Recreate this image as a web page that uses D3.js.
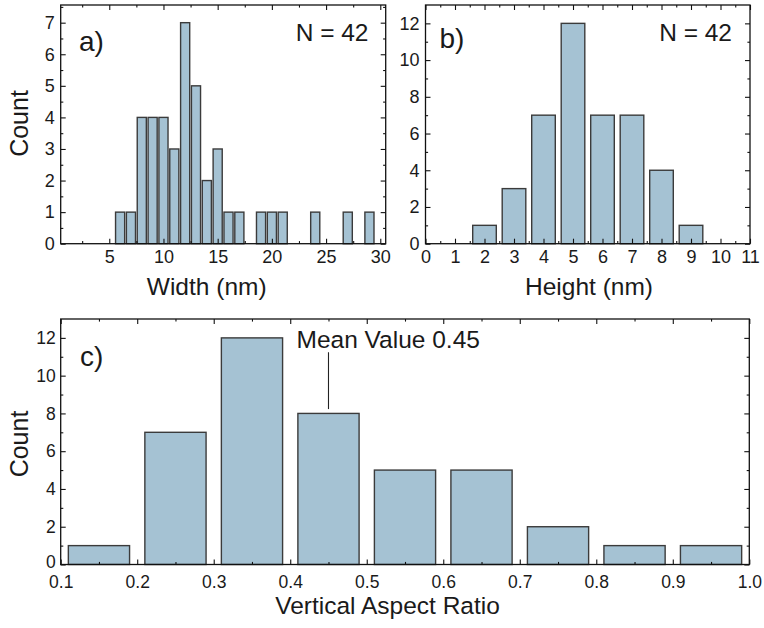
<!DOCTYPE html>
<html>
<head>
<meta charset="utf-8">
<script src="https://cdn.jsdelivr.net/npm/d3@7"></script>
<style>
  html, body { margin: 0; padding: 0; background: #fff; }
  svg { display: block; font-family: "Liberation Sans", Arial, Helvetica, sans-serif; }
  .tick text { fill: #1a1a1a; }
</style>
</head>
<body>
<svg id="chart" width="764" height="628"></svg>
<script>
// Width histogram (nm), 1 nm bins
const widthBins   = [6, 7, 8, 9, 10, 11, 12, 13, 14, 15, 16, 17, 19, 20, 21, 24, 27, 29];
const widthCounts = [1, 1, 4, 4, 4, 3, 7, 5, 2, 3, 1, 1, 1, 1, 1, 1, 1, 1];

// Height histogram (nm), 1 nm bins
const heightBins   = [2, 3, 4, 5, 6, 7, 8, 9];
const heightCounts = [1, 3, 7, 12, 7, 7, 4, 1];

// Vertical aspect ratio histogram, 0.1 bins
const ratioBins   = [0.15, 0.25, 0.35, 0.45, 0.55, 0.65, 0.75, 0.85, 0.95];
const ratioCounts = [1, 7, 12, 8, 5, 5, 2, 1, 1];

const sampleSize = 42;
const meanRatio = 0.45;

// Tick values
const widthTicks = [5, 10, 15, 20, 25, 30];
const widthMinor = [2.5, 7.5, 12.5, 17.5, 22.5, 27.5];
const widthCountTicks = [0, 1, 2, 3, 4, 5, 6, 7];
const widthCountMinor = [0.5, 1.5, 2.5, 3.5, 4.5, 5.5, 6.5, 7.5];
const heightTicks = [0, 1, 2, 3, 4, 5, 6, 7, 8, 9, 10, 11];
const heightMinor = [0.5, 1.5, 2.5, 3.5, 4.5, 5.5, 6.5, 7.5, 8.5, 9.5, 10.5];
const evenCountTicks = [0, 2, 4, 6, 8, 10, 12];
const oddCountMinor = [1, 3, 5, 7, 9, 11];
const ratioTicks = [0.1, 0.2, 0.3, 0.4, 0.5, 0.6, 0.7, 0.8, 0.9, 1.0];
const ratioMinor = [0.15, 0.25, 0.35, 0.45, 0.55, 0.65, 0.75, 0.85, 0.95];

const svg = d3.select("#chart");
const BAR_FILL = "#a5c2d3";
const BAR_STROKE = "#3b3b3b";
const TEXT = "#1a1a1a";

function drawPanel(cfg) {
  const g = svg.append("g");
  const x = d3.scaleLinear().domain(cfg.xDomain).range([cfg.left, cfg.right]);
  const y = d3.scaleLinear().domain(cfg.yDomain).range([cfg.bottom, cfg.top]);

  // bars
  g.append("g").selectAll("rect")
    .data(d3.zip(cfg.bins, cfg.counts))
    .join("rect")
    .attr("x", d => x(d[0] - cfg.barWidth / 2))
    .attr("width", d => x(d[0] + cfg.barWidth / 2) - x(d[0] - cfg.barWidth / 2))
    .attr("y", d => y(d[1]))
    .attr("height", d => y(0) - y(d[1]))
    .attr("fill", BAR_FILL)
    .attr("stroke", BAR_STROKE)
    .attr("stroke-width", 1.4);

  const major = 5, minor = 2.6;
  const addAxis = (axis, transform, labels) => {
    const a = g.append("g").attr("transform", transform).call(axis);
    a.select(".domain").remove();
    a.selectAll(".tick line").attr("stroke", "#111").attr("stroke-width", 1.1);
    if (!labels) a.selectAll(".tick text").remove();
    else a.selectAll(".tick text").attr("font-size", cfg.tickFont).attr("fill", TEXT);
    return a;
  };

  // bottom
  addAxis(d3.axisBottom(x).tickValues(cfg.xTicks).tickSize(-major).tickPadding(cfg.xPad)
    .tickFormat(cfg.xFormat), `translate(0,${cfg.bottom})`, true);
  addAxis(d3.axisBottom(x).tickValues(cfg.xMinor).tickSize(-minor).tickFormat(""),
    `translate(0,${cfg.bottom})`, false);
  // top mirror
  addAxis(d3.axisTop(x).tickValues(cfg.xTicks).tickSize(-major), `translate(0,${cfg.top})`, false);
  addAxis(d3.axisTop(x).tickValues(cfg.xMinor).tickSize(-minor), `translate(0,${cfg.top})`, false);
  // left
  const left = addAxis(d3.axisLeft(y).tickValues(cfg.yTicks).tickSize(-major).tickPadding(cfg.yPad)
    .tickFormat(d3.format("d")), `translate(${cfg.left},0)`, true);
  // lift the zero label a little so it clears the first x label
  if (cfg.zeroLift) {
    left.selectAll(".tick text").filter(d => d === 0)
      .attr("y", -cfg.zeroLift);
  }
  addAxis(d3.axisLeft(y).tickValues(cfg.yMinor).tickSize(-minor), `translate(${cfg.left},0)`, false);
  // right mirror
  addAxis(d3.axisRight(y).tickValues(cfg.yTicks).tickSize(-major), `translate(${cfg.right},0)`, false);
  addAxis(d3.axisRight(y).tickValues(cfg.yMinor).tickSize(-minor), `translate(${cfg.right},0)`, false);

  // frame
  g.append("rect")
    .attr("x", cfg.left).attr("y", cfg.top)
    .attr("width", cfg.right - cfg.left).attr("height", cfg.bottom - cfg.top)
    .attr("fill", "none").attr("stroke", "#111").attr("stroke-width", 1.3);

  // axis titles
  g.append("text")
    .attr("x", cfg.xTitleX).attr("y", cfg.xTitleY)
    .attr("text-anchor", "middle").attr("font-size", 24.5).attr("fill", TEXT)
    .text(cfg.xTitle);
  if (cfg.yTitle) {
    g.append("text")
      .attr("transform", `translate(${cfg.yTitleX},${cfg.yTitleY}) rotate(-90)`)
      .attr("text-anchor", "middle").attr("font-size", 25).attr("fill", TEXT)
      .text(cfg.yTitle);
  }

  // panel letter
  g.append("text")
    .attr("x", cfg.tagX).attr("y", cfg.tagY)
    .attr("font-size", 28).attr("fill", TEXT)
    .text(cfg.tag);

  // sample size
  if (cfg.nX) {
    g.append("text")
      .attr("x", cfg.nX).attr("y", cfg.nY)
      .attr("text-anchor", "end").attr("font-size", 24.5).attr("fill", TEXT)
      .text(`N = ${sampleSize}`);
  }
  return { g, x, y };
}

drawPanel({
  left: 60.7, right: 385.7, top: 5, bottom: 243.7,
  xDomain: [0.52, 30.5], yDomain: [0, 7.56],
  bins: widthBins, counts: widthCounts, barWidth: 0.84,
  tickFont: 18,
  xTicks: widthTicks, xMinor: widthMinor, xFormat: d3.format("d"), xPad: 7,
  yTicks: widthCountTicks, yMinor: widthCountMinor, yPad: 6,
  xTitle: "Width (nm)", xTitleX: 206.7, xTitleY: 294.5,
  yTitle: "Count", yTitleX: 28, yTitleY: 123.5,
  tag: "a)", tagX: 79, tagY: 51,
  nX: 368.5, nY: 41
});

drawPanel({
  left: 425.5, right: 750, top: 5, bottom: 243.7,
  xDomain: [0, 11], yDomain: [0, 13],
  bins: heightBins, counts: heightCounts, barWidth: 0.8,
  tickFont: 18,
  xTicks: heightTicks, xMinor: heightMinor, xFormat: d3.format("d"), xPad: 7,
  yTicks: evenCountTicks, yMinor: oddCountMinor, yPad: 6,
  xTitle: "Height (nm)", xTitleX: 589, xTitleY: 294.5,
  tag: "b)", tagX: 439.5, tagY: 48,
  nX: 732, nY: 41
});

const c = drawPanel({
  left: 60.7, right: 749.3, top: 319, bottom: 564.5,
  xDomain: [0.1, 1.0], yDomain: [0, 13],
  bins: ratioBins, counts: ratioCounts, barWidth: 0.08,
  tickFont: 17.5,
  xTicks: ratioTicks, xMinor: ratioMinor, xFormat: d3.format(".1f"), xPad: 11,
  yTicks: evenCountTicks, yMinor: oddCountMinor, yPad: 5, zeroLift: 2.5,
  xTitle: "Vertical Aspect Ratio", xTitleX: 387.5, xTitleY: 613.5,
  yTitle: "Count", yTitleX: 28, yTitleY: 444,
  tag: "c)", tagX: 80, tagY: 366
});

// mean value marker
c.g.append("line")
  .attr("x1", c.x(meanRatio)).attr("x2", c.x(meanRatio))
  .attr("y1", c.y(8.23)).attr("y2", c.y(11.24))
  .attr("stroke", "#222").attr("stroke-width", 1.1);
c.g.append("text")
  .attr("x", c.x(meanRatio) - 32).attr("y", c.y(11.45))
  .attr("font-size", 24.5).attr("fill", TEXT)
  .text(`Mean Value ${meanRatio}`);
</script>
</body>
</html>
